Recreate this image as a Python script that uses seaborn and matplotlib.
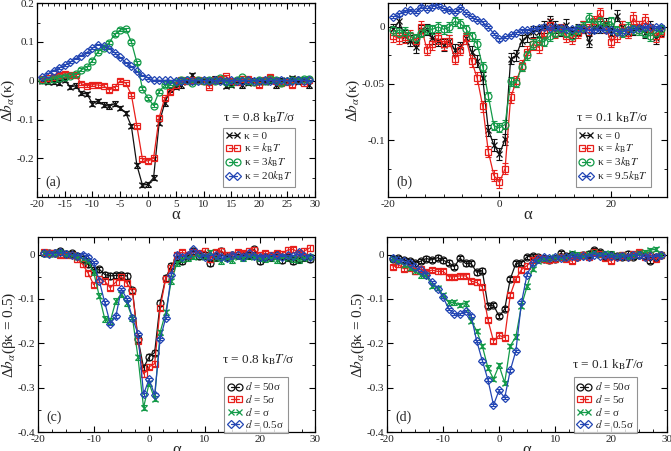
import pandas as pd
import matplotlib
matplotlib.use('Agg')
import matplotlib.pyplot as plt
from matplotlib.ticker import FixedLocator, MultipleLocator, FuncFormatter
import seaborn as sns

ALPHA = list(range(-19, 30))

# panel (a): tau = 0.8
A_K0 = [0.0, -0.003, -0.002, -0.005, 0.002, -0.016, -0.013, -0.032, -0.034, -0.059,
        -0.052, -0.062, -0.066, -0.059, -0.07, -0.083, -0.117, -0.218, -0.269, -0.267,
        -0.25, -0.109, -0.058, -0.022, -0.015, -0.012, -0.003, 0.014, 0.0, 0.002,
        -0.002, 0.005, 0.0, -0.014, -0.01, 0.0, -0.012, -0.005, 0.0, -0.002,
        -0.003, 0.0, -0.012, 0.002, 0.0, 0.006, -0.003, 0.003, -0.012]
A_K1 = [0.004, 0.006, 0.01, 0.016, 0.018, 0.016, 0.014, -0.008, -0.013, -0.01,
        -0.011, -0.013, -0.024, -0.017, 0.0, -0.006, -0.036, -0.117, -0.203, -0.207,
        -0.2, -0.095, -0.045, -0.03, -0.01, 0.003, 0.0, 0.002, 0.003, 0.0,
        -0.015, 0.002, 0.005, 0.012, 0.0, -0.002, 0.004, 0.005, -0.003, -0.012,
        0.002, 0.01, 0.0, -0.005, -0.002, -0.011, 0.003, -0.005, 0.003]
A_K3 = [0.002, 0.003, 0.005, 0.008, 0.01, 0.013, 0.017, 0.028, 0.035, 0.052,
        0.075, 0.085, 0.098, 0.12, 0.131, 0.133, 0.1, 0.047, -0.021, -0.045,
        -0.064, -0.028, -0.012, -0.008, -0.003, 0.002, 0.003, -0.005, 0.003, 0.0,
        0.002, 0.0, 0.008, -0.004, -0.006, 0.002, 0.009, 0.0, -0.002, 0.003,
        0.0, 0.005, 0.003, -0.006, 0.0, 0.002, 0.003, 0.005, 0.004]
A_K20 = [0.009, 0.018, 0.026, 0.033, 0.04, 0.048, 0.057, 0.065, 0.073, 0.084,
         0.093, 0.09, 0.083, 0.072, 0.06, 0.047, 0.037, 0.024, 0.013, 0.007,
         0.001, 0.001, 0.001, 0.001, 0.0, 0.0, 0.001, 0.0, 0.0, 0.001,
         0.0, 0.001, 0.0, 0.0, 0.001, 0.0, 0.0, 0.001, 0.0, 0.0,
         0.001, 0.0, 0.0, 0.001, 0.0, 0.0, 0.001, 0.0, 0.001]

# panel (b): tau = 0.1
B_K0 = [-0.002, 0.005, -0.008, -0.012, -0.018, -0.003, -0.002, -0.01, -0.012, -0.016,
        -0.012, -0.02, -0.018, -0.01, -0.022, -0.03, -0.045, -0.091, -0.104, -0.112,
        -0.099, -0.028, -0.025, -0.012, -0.008, -0.004, -0.004, 0.0, 0.005, 0.0,
        -0.003, 0.002, -0.005, -0.002, 0.0, -0.013, 0.0, 0.0, 0.003, -0.006,
        0.01, 0.0, -0.005, -0.002, 0.0, -0.005, 0.0, -0.01, -0.003]
B_K1 = [-0.008, -0.01, -0.009, -0.008, -0.012, 0.0, -0.02, -0.015, -0.01, -0.015,
        -0.012, -0.028, -0.02, -0.01, -0.03, -0.045, -0.07, -0.11, -0.131, -0.137,
        -0.125, -0.062, -0.048, -0.034, -0.022, -0.015, -0.018, -0.005, 0.002, -0.005,
        -0.002, -0.008, -0.01, -0.005, 0.0, -0.002, 0.005, 0.012, 0.0, -0.013,
        -0.008, 0.0, -0.005, 0.008, 0.0, 0.006, -0.002, -0.008, -0.004]
B_K3 = [-0.003, -0.005, -0.004, -0.008, -0.01, -0.005, -0.002, -0.002, 0.0, -0.002,
        0.0, 0.005, 0.003, -0.002, -0.008, -0.015, -0.035, -0.061, -0.087, -0.089,
        -0.086, -0.048, -0.049, -0.035, -0.025, -0.015, -0.012, -0.013, -0.008, -0.005,
        -0.003, -0.005, -0.008, -0.002, 0.0, 0.008, 0.003, 0.005, 0.0, 0.005,
        -0.003, -0.005, 0.0, -0.002, -0.003, -0.005, -0.008, -0.005, -0.002]
B_K95 = [0.009, 0.011, 0.014, 0.015, 0.013, 0.018, 0.016, 0.018, 0.019, 0.016,
         0.015, 0.013, 0.017, 0.012, 0.009, 0.006, 0.004, 0.0, -0.006, -0.011,
         -0.009, -0.007, -0.005, -0.003, -0.003, -0.002, -0.001, 0.0, -0.001, 0.0,
         -0.001, -0.002, -0.002, -0.001, -0.002, -0.003, -0.003, -0.002, -0.003, -0.003,
         -0.004, -0.004, -0.003, -0.002, -0.001, 0.0, 0.0, 0.0, 0.0]

# panel (c): tau = 0.8, beta*kappa = 0.5
C_D50 = [0.003, 0.003, 0.004, 0.007, 0.002, 0.003, -0.003, -0.01, -0.022, -0.034,
         -0.033, -0.045, -0.048, -0.047, -0.047, -0.048, -0.081, -0.19, -0.255, -0.231,
         -0.221, -0.109, -0.053, -0.025, -0.012, -0.015, -0.003, 0.008, -0.003, 0.0,
         -0.02, -0.005, 0.008, -0.005, 0.0, 0.0, -0.003, 0.0, 0.012, -0.015,
         -0.005, -0.005, 0.0, -0.012, -0.005, -0.015, -0.01, -0.005, -0.01]
C_D5 = [0.005, 0.004, 0.003, 0.0, 0.0, -0.002, -0.01, -0.022, -0.042, -0.068,
        -0.055, -0.06, -0.075, -0.062, -0.05, -0.065, -0.083, -0.194, -0.269, -0.253,
        -0.246, -0.12, -0.054, -0.03, 0.0, 0.005, 0.0, 0.005, 0.003, 0.008,
        -0.01, 0.005, 0.008, 0.0, -0.002, 0.005, 0.003, 0.008, 0.01, 0.0,
        0.003, 0.0, 0.003, 0.002, 0.01, 0.012, 0.003, 0.008, 0.015]
C_D1 = [0.003, 0.002, 0.002, 0.005, 0.002, 0.0, -0.005, -0.01, -0.015, -0.04,
        -0.093, -0.145, -0.15, -0.105, -0.09, -0.11, -0.143, -0.232, -0.345, -0.29,
        -0.325, -0.175, -0.13, -0.06, -0.02, -0.01, -0.008, -0.005, -0.003, -0.005,
        0.005, -0.008, -0.015, -0.008, -0.012, -0.005, -0.008, -0.003, -0.005, -0.008,
        -0.01, -0.008, -0.012, -0.005, -0.008, -0.01, -0.012, -0.008, -0.005]
C_D05 = [0.003, 0.002, 0.003, 0.005, 0.002, 0.0, -0.003, 0.0, -0.005, -0.017,
         -0.059, -0.108, -0.156, -0.139, -0.078, -0.1, -0.143, -0.179, -0.315, -0.281,
         -0.316, -0.19, -0.143, -0.045, 0.0, -0.005, 0.0, 0.012, 0.002, -0.005,
         -0.003, 0.0, -0.005, -0.008, 0.0, -0.002, -0.005, 0.003, -0.003, -0.005,
         -0.005, -0.003, -0.002, -0.005, -0.002, -0.003, 0.005, -0.003, -0.005]

# panel (d): tau = 0.1, beta*kappa = 0.5
D_D50 = [-0.01, -0.008, -0.012, -0.015, -0.02, -0.015, -0.009, -0.012, -0.007, -0.013,
         -0.018, -0.028, -0.008, -0.02, -0.02, -0.04, -0.036, -0.115, -0.114, -0.139,
         -0.123, -0.055, -0.02, -0.019, -0.005, -0.003, -0.005, -0.01, -0.012, -0.01,
         0.003, -0.003, 0.0, -0.005, 0.0, 0.002, 0.01, 0.005, -0.003, 0.0,
         -0.003, -0.005, 0.002, -0.005, 0.0, -0.003, -0.015, -0.005, -0.002]
D_D5 = [-0.028, -0.022, -0.032, -0.03, -0.038, -0.033, -0.04, -0.035, -0.038, -0.038,
        -0.05, -0.05, -0.048, -0.048, -0.06, -0.063, -0.073, -0.147, -0.195, -0.182,
        -0.187, -0.091, -0.055, -0.034, -0.025, -0.012, -0.008, -0.01, -0.012, -0.01,
        -0.005, -0.01, -0.015, -0.005, 0.0, -0.005, 0.005, 0.002, -0.008, -0.015,
        -0.005, 0.0, -0.005, 0.002, 0.005, -0.005, 0.0, -0.01, 0.0]
D_D1 = [-0.009, -0.015, -0.023, -0.03, -0.038, -0.047, -0.047, -0.07, -0.075, -0.092,
        -0.108, -0.108, -0.114, -0.11, -0.149, -0.172, -0.206, -0.255, -0.28, -0.25,
        -0.289, -0.206, -0.185, -0.115, -0.072, -0.032, -0.015, -0.01, -0.008, -0.005,
        -0.008, -0.005, 0.003, 0.0, -0.003, 0.002, 0.005, 0.0, 0.003, 0.002,
        -0.003, 0.0, -0.005, -0.002, 0.003, 0.005, 0.01, 0.012, 0.0]
D_D05 = [-0.008, -0.012, -0.015, -0.02, -0.028, -0.035, -0.045, -0.062, -0.077, -0.096,
         -0.123, -0.134, -0.134, -0.127, -0.138, -0.195, -0.239, -0.282, -0.339, -0.306,
         -0.323, -0.261, -0.217, -0.108, -0.045, -0.02, -0.01, -0.005, -0.008, -0.005,
         -0.008, -0.005, -0.003, -0.005, -0.003, -0.005, 0.0, -0.003, -0.002, -0.003,
         -0.005, -0.003, -0.005, 0.0, -0.002, -0.005, -0.003, -0.005, -0.002]

# one error-bar half-width per series
ERR_A = [0.006, 0.004, 0.004, 0.002]
ERR_B = [0.005, 0.005, 0.004, 0.001]
ERR_C = [0.006, 0.006, 0.006, 0.003]
ERR_D = [0.005, 0.005, 0.005, 0.003]

LAB_A = ['κ = 0', r'κ = $k_\mathrm{B}T$', r'κ = 3$k_\mathrm{B}T$', r'κ = 20$k_\mathrm{B}T$']
LAB_B = ['κ = 0', r'κ = $k_\mathrm{B}T$', r'κ = 3$k_\mathrm{B}T$', r'κ = 9.5$k_\mathrm{B}T$']
LAB_CD = [r'$d$ = 50σ', r'$d$ = 5σ', r'$d$ = σ', r'$d$ = 0.5σ']

COLORS = ['#111111', '#e8201c', '#139a48', '#2346b4']
MARK_AB = ['x', 's', 'o', 'D']
MARK_CD = ['o', 's', 'x', 'D']

sns.set_theme(style='ticks')
plt.rcParams['font.family'] = ['Liberation Serif', 'DejaVu Serif']
plt.rcParams['mathtext.fontset'] = 'stix'
plt.rcParams['axes.unicode_minus'] = False
plt.rcParams['xtick.direction'] = 'in'
plt.rcParams['ytick.direction'] = 'in'
plt.rcParams['xtick.top'] = True
plt.rcParams['ytick.right'] = True
plt.rcParams['axes.edgecolor'] = 'black'
plt.rcParams['axes.linewidth'] = 0.9

fig = plt.figure(figsize=(6.71, 4.51), dpi=100)
ax_a = fig.add_axes([0.055, 0.563, 0.414, 0.430])
ax_b = fig.add_axes([0.578, 0.563, 0.416, 0.430])
ax_c = fig.add_axes([0.057, 0.042, 0.413, 0.432])
ax_d = fig.add_axes([0.577, 0.042, 0.417, 0.432])


def fmt(v, pos):
    if abs(v) < 1e-9:
        return '0'
    return ('%g' % v)


def draw(ax, series, errs, labels, markers, ylim, yticks, yminor, xticks, xminor,
         ylabel, tau, letter, leg_anchor, tau_pos):
    for vals, err, lab, mk, col in zip(series, errs, labels, markers, COLORS):
        df = pd.DataFrame({'alpha': ALPHA, 'db': vals})
        ax.errorbar(df['alpha'], df['db'], yerr=err, fmt='none', ecolor=col,
                    elinewidth=0.8, capsize=2, capthick=0.8, zorder=2)
        ms = 4.0 if mk == 'D' else (4.5 if mk == 'x' else 5)
        sns.lineplot(data=df, x='alpha', y='db', ax=ax, color=col, marker=mk,
                     markersize=ms, markerfacecolor='none', markeredgecolor=col,
                     markeredgewidth=0.9, linewidth=0.9, label=lab, zorder=3)
    ax.set_xlim(-20, 30)
    ax.set_ylim(*ylim)
    ax.xaxis.set_major_locator(FixedLocator(xticks))
    ax.xaxis.set_minor_locator(MultipleLocator(xminor))
    ax.yaxis.set_major_locator(FixedLocator(yticks))
    ax.yaxis.set_minor_locator(MultipleLocator(yminor))
    ax.xaxis.set_major_formatter(FuncFormatter(fmt))
    ax.yaxis.set_major_formatter(FuncFormatter(fmt))
    ax.tick_params(which='major', length=4, width=0.8, labelsize=8, pad=2,
                   color='black', labelcolor='#222222')
    ax.tick_params(which='minor', length=2, width=0.6, color='black')
    ax.set_xlabel('α', fontsize=12, labelpad=-1)
    ax.set_ylabel(ylabel, fontsize=11, labelpad=0)
    leg = ax.legend(loc='upper right', bbox_to_anchor=leg_anchor, numpoints=2,
                    fontsize=8, frameon=True, fancybox=False, borderaxespad=0,
                    handlelength=1.3, handletextpad=0.3, labelspacing=0.05,
                    borderpad=0.3)
    leg.get_frame().set_edgecolor('#777777')
    leg.get_frame().set_linewidth(0.8)
    ax.text(tau_pos[0], tau_pos[1], tau, transform=ax.transAxes, fontsize=9.5,
            ha='center', va='center')
    ax.text(0.03, 0.075, letter, transform=ax.transAxes, fontsize=10,
            ha='left', va='center')


draw(ax_a, [A_K0, A_K1, A_K3, A_K20], ERR_A, LAB_A, MARK_AB, (-0.3, 0.2),
     [-0.2, -0.1, 0, 0.1, 0.2], 0.05, [-20, -15, -10, -5, 0, 5, 10, 15, 20, 25, 30], 1,
     r'Δ$b_\alpha$(κ)', r'τ = 0.8 k$_\mathrm{B}$$T$/σ', '(a)',
     (0.93, 0.356), (0.80, 0.41))
draw(ax_b, [B_K0, B_K1, B_K3, B_K95], ERR_B, LAB_B, MARK_AB, (-0.15, 0.021),
     [-0.1, -0.05, 0], 0.025, [-20, 0, 20], 20 / 6,
     r'Δ$b_\alpha$(κ)', r'τ = 0.1 k$_\mathrm{B}$$T$/σ', '(b)',
     (0.943, 0.356), (0.806, 0.41))
draw(ax_c, [C_D50, C_D5, C_D1, C_D05], ERR_C, LAB_CD, MARK_CD, (-0.4, 0.039),
     [-0.4, -0.3, -0.2, -0.1, 0], 0.05, [-20, -10, 0, 10, 20, 30], 2.5,
     r'Δ$b_\alpha$(βκ = 0.5)', r'τ = 0.8 k$_\mathrm{B}$$T$/σ', '(c)',
     (0.90, 0.282), (0.795, 0.37))
draw(ax_d, [D_D50, D_D5, D_D1, D_D05], ERR_D, LAB_CD, MARK_CD, (-0.4, 0.039),
     [-0.4, -0.3, -0.2, -0.1, 0], 0.05, [-20, -10, 0, 10, 20, 30], 2.5,
     r'Δ$b_\alpha$(βκ = 0.5)', r'τ = 0.1 k$_\mathrm{B}$$T$/σ', '(d)',
     (0.893, 0.282), (0.79, 0.344))

fig.savefig('out.png', dpi=100)
